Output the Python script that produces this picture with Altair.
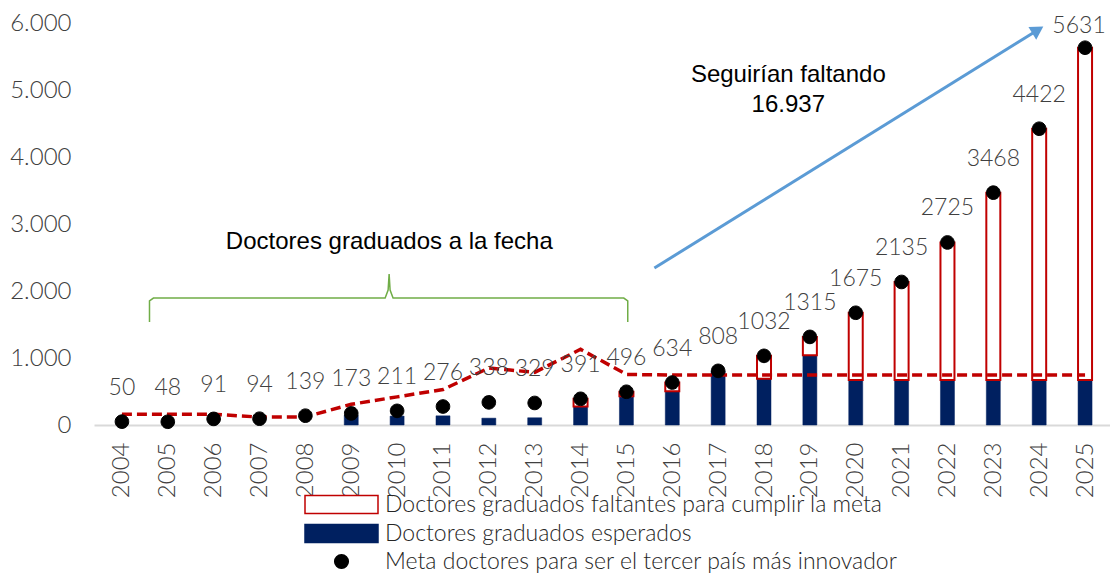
import altair as alt
import pandas as pd

# ---------------- data ----------------
anios = list(range(2004, 2026))
meta = [50, 48, 91, 94, 139, 173, 211, 276, 338, 329, 391, 496,
        634, 808, 1032, 1315, 1675, 2135, 2725, 3468, 4422, 5631]
esperados = [0, 0, 0, 0, 0, 145, 133, 137, 102, 108, 275, 430,
             505, 808, 690, 1040, 670, 670, 670, 670, 670, 670]
faltantes = [0, 0, 0, 0, 0, 0, 0, 0, 0, 0, 116, 66,
             129, 0, 342, 275, 1005, 1465, 2055, 2798, 3752, 4961]
tendencia = [162, 160, 160, 118, 120, 309, 420, 530, 850, 786, 1130, 755,
             745, 745, 745, 745, 745, 745, 745, 745, 745, 745]

S_FALT = "Doctores graduados faltantes para cumplir la meta"
S_ESP = "Doctores graduados esperados"
S_META = "Meta doctores para ser el tercer país más innovador"
series = [S_FALT, S_ESP, S_META]

# annotation anchors (data units: year, value)
txt_fecha = ["Doctores graduados a la fecha"]
txt_fecha_x = [2009.83]
txt_fecha_y = [2731]
txt_falta = ["Seguirían faltando", "16.937"]
txt_falta_x = [2018.53, 2018.53]
txt_falta_y = [5224, 4776]
brace_x = [2004.601, 2004.601, 2004.687, 2009.739, 2009.804, 2009.826,
           2009.847, 2009.912, 2014.942, 2015.029, 2015.029]
brace_y = [1537, 1851, 1895, 1895, 2015, 2254, 2015, 1895, 1895, 1851, 1537]
arrow_x = [2015.61]
arrow_y = [2343]
arrow_x2 = [2023.97]
arrow_y2 = [5896]

# ---------------- frames ----------------
esp_rows, falt_rows = [], []
for a, e, f in zip(anios, esperados, faltantes):
    if e > 0:
        esp_rows.append({"anio": a, "serie": S_ESP, "y0": 0, "y1": e})
    if f > 0:
        falt_rows.append({"anio": a, "serie": S_FALT, "y0": e, "y1": e + f})
df_esp = pd.DataFrame(esp_rows)
df_falt = pd.DataFrame(falt_rows)
df = pd.DataFrame({"anio": anios, "meta": meta, "tendencia": tendencia,
                   "serie": [S_META] * len(anios)})
df_fecha = pd.DataFrame({"x": txt_fecha_x, "y": txt_fecha_y, "t": txt_fecha})
df_falta = pd.DataFrame({"x": txt_falta_x, "y": txt_falta_y, "t": txt_falta})
df_brace = pd.DataFrame({"x": brace_x, "y": brace_y, "o": list(range(len(brace_x)))})
df_arrow = pd.DataFrame({"x": arrow_x, "y": arrow_y, "x2": arrow_x2, "y2": arrow_y2})

# ---------------- styling ----------------
FONT = "Lato"
TXT = "#404040"
RECT = "M-3.65,-0.9H3.65V0.9H-3.65Z"
DOT = "M-0.68,0A0.68,0.68 0 1,0 0.68,0A0.68,0.68 0 1,0 -0.68,0Z"

x_scale = alt.Scale(domain=[2003.5, 2025.435], nice=False, zero=False)
y_scale = alt.Scale(domain=[0, 6000], nice=False)
x_axis = alt.Axis(values=anios, format="d", labelAngle=-90, labelFont=FONT,
                  labelFontWeight=300, labelFontSize=24, labelColor=TXT,
                  labelPadding=17, ticks=False, grid=False, domainColor="#D9D9D9",
                  domainWidth=2, title=None, labelOverlap=False)
y_axis = alt.Axis(values=[0, 1000, 2000, 3000, 4000, 5000, 6000],
                  labelExpr="replace(format(datum.value, ','), ',', '.')",
                  labelFont=FONT, labelFontWeight=300, labelFontSize=24,
                  labelColor=TXT, labelPadding=23, domain=False, ticks=False,
                  grid=False, title=None)


def X(field):
    return alt.X(field, type="quantitative", scale=x_scale, axis=x_axis)


def Y(field):
    return alt.Y(field, type="quantitative", scale=y_scale, axis=y_axis)


leg = alt.Legend(title=None, orient="none", legendX=236, legendY=470,
                 direction="vertical", symbolSize=400, symbolStrokeWidth=1.5,
                 labelFont=FONT, labelFontWeight=300, labelFontSize=23,
                 labelColor="#262626", labelOffset=32, labelLimit=900,
                 rowPadding=4, padding=0)
fill = alt.Fill("serie:N", sort=series,
                scale=alt.Scale(domain=series, range=["white", "#002060", "black"]),
                legend=leg)
stroke = alt.Stroke("serie:N", sort=series,
                    scale=alt.Scale(domain=series, range=["#C00000", "#002060", "black"]),
                    legend=leg)
shape = alt.Shape("serie:N", sort=series,
                  scale=alt.Scale(domain=series, range=[RECT, RECT, DOT]),
                  legend=leg)

bars_esp = alt.Chart(df_esp).mark_bar(size=14, strokeWidth=0.5).encode(
    x=X("anio"), y=Y("y0"), y2="y1", fill=fill, stroke=stroke)
bars_falt = alt.Chart(df_falt).mark_bar(size=14, strokeWidth=2).encode(
    x=X("anio"), y=Y("y0"), y2="y1", fill=fill, stroke=stroke)

line = alt.Chart(df).mark_line(color="#C00000", strokeWidth=3.5,
                               strokeDash=[10, 5]).encode(
    x=X("anio"), y=Y("tendencia"))

points = alt.Chart(df).mark_point(filled=True, size=400, opacity=1,
                                  strokeWidth=1).encode(
    x=X("anio"), y=Y("meta"), fill=fill, stroke=stroke, shape=shape)

label_kw = dict(font=FONT, fontWeight=300, fontSize=23, color=TXT)
labels = alt.Chart(df).transform_filter("datum.anio < 2025").mark_text(
    dy=-34, **label_kw).encode(
    x=X("anio"), y=Y("meta"), text=alt.Text("meta:Q", format="d"))
labels_top = alt.Chart(df).transform_filter("datum.anio == 2025").mark_text(
    dy=-22, dx=-6, **label_kw).encode(
    x=X("anio"), y=Y("meta"), text=alt.Text("meta:Q", format="d"))

brace = alt.Chart(df_brace).mark_line(color="#70AD47", strokeWidth=1.5).encode(
    x=X("x"), y=Y("y"), order="o:Q")

arrow = alt.Chart(df_arrow).mark_rule(color="#5B9BD5", strokeWidth=3).encode(
    x=X("x"), y=Y("y"), x2="x2", y2="y2")
arrowhead = alt.Chart(df_arrow).mark_point(
    shape="triangle-right", filled=True, size=220, angle=328.5,
    color="#5B9BD5", opacity=1).encode(x=X("x2"), y=Y("y2"))

ann_kw = dict(font="Liberation Sans", fontSize=24, color="black")
ann_fecha = alt.Chart(df_fecha).mark_text(**ann_kw).encode(
    x=X("x"), y=Y("y"), text="t:N")
ann_falta = alt.Chart(df_falta).mark_text(**ann_kw).encode(
    x=X("x"), y=Y("y"), text="t:N")

chart = alt.layer(
    bars_esp, bars_falt, line, brace, arrow, arrowhead, points,
    labels, labels_top, ann_fecha, ann_falta
).properties(
    width=1016, height=402,
    autosize=alt.AutoSizeParams(type="none"),
    padding={"left": 86, "top": 15, "right": 0, "bottom": 148},
    background="white",
).configure_view(stroke=None)

chart.save("out.html", embed_options={"renderer": "svg", "actions": False})
